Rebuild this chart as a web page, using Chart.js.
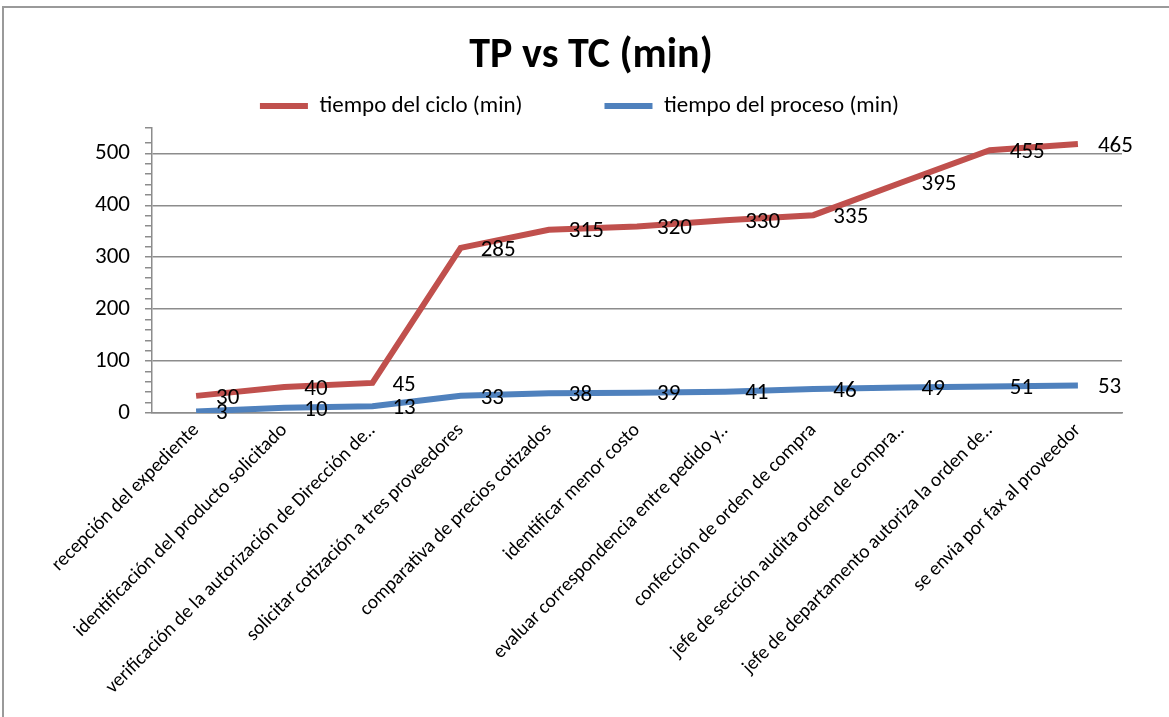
<!DOCTYPE html>
<html>
<head>
<meta charset="utf-8">
<script src="https://cdn.jsdelivr.net/npm/chart.js@4/dist/chart.umd.min.js"></script>
<style>
    html, body { margin: 0; padding: 0; background: #fff; }
    #wrap { position: relative; width: 1169px; height: 717px; overflow: hidden; }
    #frame { position: absolute; left: 2px; top: 6px; width: 1300px; height: 800px; border-top: 2px solid #9a9a9a; border-left: 2px solid #9a9a9a; }
    canvas { position: absolute; left: 0; top: 0; }
</style>
</head>
<body>
<div id="wrap">
    <div id="frame"></div>
    <canvas id="chart" width="1169" height="717"></canvas>
</div>
<script>
const categories = [
    'recepción del expediente',
    'identificación del producto solicitado',
    'verificación de la autorización de Dirección de..',
    'solicitar cotización a tres proveedores',
    'comparativa de precios cotizados',
    'identificar menor costo',
    'evaluar correspondencia entre pedido y..',
    'confección de orden de compra',
    'jefe de sección audita orden de compra..',
    'jefe de departamento autoriza la orden de..',
    'se envia por fax al proveedor'
];
const tiempoProceso = [3, 10, 13, 33, 38, 39, 41, 46, 49, 51, 53];
const tiempoCiclo = [30, 40, 45, 285, 315, 320, 330, 335, 395, 455, 465];

const FONT = 'Carlito, Lato, "Open Sans", sans-serif';

// value labels to the right of each point (raw values, not stacked totals)
const valueLabels = {
    id: 'valueLabels',
    afterDatasetsDraw(chart) {
        const ctx = chart.ctx;
        ctx.save();
        ctx.font = '23px ' + FONT;
        ctx.fillStyle = '#000';
        ctx.textAlign = 'left';
        ctx.textBaseline = 'middle';
        chart.data.datasets.forEach((ds, i) => {
            chart.getDatasetMeta(i).data.forEach((pt, j) => {
                ctx.fillText(String(ds.data[j]), pt.x + 20, pt.y + 2);
            });
        });
        ctx.restore();
    }
};

new Chart(document.getElementById('chart'), {
    type: 'line',
    data: {
        labels: categories,
        datasets: [
            {
                label: 'tiempo del proceso (min)',
                data: tiempoProceso,
                borderColor: '#4F81BD',
                backgroundColor: '#4F81BD',
                borderWidth: 6,
                pointRadius: 0,
                tension: 0,
                fill: false
            },
            {
                label: 'tiempo del ciclo (min)',
                data: tiempoCiclo,
                borderColor: '#C0504D',
                backgroundColor: '#C0504D',
                borderWidth: 6,
                pointRadius: 0,
                tension: 0,
                fill: false
            }
        ]
    },
    options: {
        responsive: false,
        animation: false,
        layout: { padding: { left: 60, right: 47, top: 0, bottom: 0 } },
        plugins: {
            title: {
                display: true,
                text: 'TP vs TC (min)',
                color: '#000',
                font: { family: FONT, size: 42, weight: 'bold' },
                padding: { top: 31, bottom: 0 }
            },
            legend: {
                reverse: true,
                labels: {
                    color: '#000',
                    font: { family: FONT, size: 23 },
                    boxWidth: 48,
                    boxHeight: 6,
                    padding: 13,
                    generateLabels(chart) {
                        const items = Chart.defaults.plugins.legend.labels.generateLabels(chart);
                        // spacing only: wider gap between items, legend a bit left of centre
                        return items.map(it => ({
                            ...it,
                            lineWidth: 0,
                            text: it.datasetIndex === 1
                                ? it.text + '\u2003\u2003\u2003'
                                : it.text + '\u2003'
                        }));
                    }
                }
            },
            tooltip: { enabled: false }
        },
        scales: {
            x: {
                offset: true,
                grid: { display: false, drawTicks: false },
                border: { display: true, color: '#8c8c8c', width: 1.5 },
                ticks: {
                    autoSkip: false,
                    maxRotation: 45,
                    minRotation: 45,
                    padding: 6,
                    color: '#000',
                    font: { family: FONT, size: 19.5 }
                },
                afterFit(scale) { scale.height = 304; }
            },
            y: {
                stacked: true,
                min: 0,
                max: 550,
                grid: {
                    color: ctx => (ctx.tick && ctx.tick.value % 100 === 0) ? '#8c8c8c' : 'rgba(0,0,0,0)',
                    tickColor: '#8c8c8c',
                    tickLength: 7,
                    lineWidth: 1.5
                },
                border: { display: true, color: '#8c8c8c', width: 1.5 },
                ticks: {
                    stepSize: 20,
                    autoSkip: false,
                    padding: 15,
                    color: '#000',
                    font: { family: FONT, size: 23 },
                    callback: v => (v % 100 === 0 ? v : '')
                },
                afterFit(scale) { scale.width = 92; }
            }
        }
    },
    plugins: [valueLabels]
});
</script>
</body>
</html>
